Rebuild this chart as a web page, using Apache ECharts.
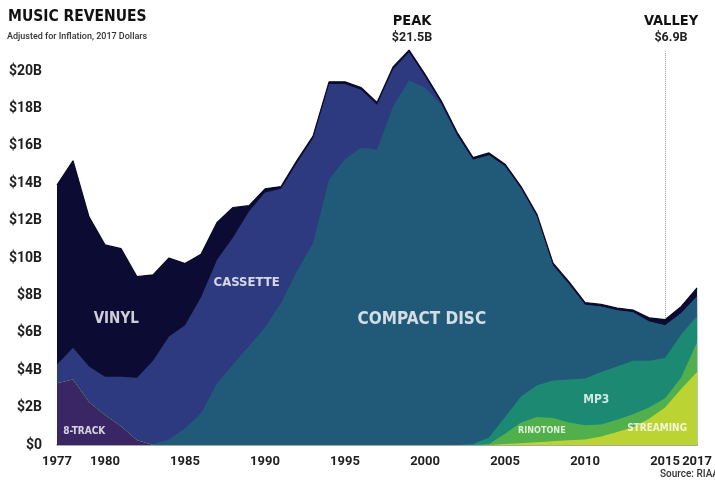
<!DOCTYPE html>
<html><head><meta charset="utf-8">
<script src="https://cdn.jsdelivr.net/npm/echarts@6.0.0/dist/echarts.min.js"></script>
<style>html,body{margin:0;padding:0;background:#fff}#c{width:715px;height:480px}</style>
</head><body><div id="c"></div>
<script>
// ---- data (billions of 2017 dollars) ----
const years = [1977,1978,1979,1980,1981,1982,1983,1984,1985,1986,1987,1988,1989,1990,1991,1992,1993,1994,1995,1996,1997,1998,1999,2000,2001,2002,2003,2004,2005,2006,2007,2008,2009,2010,2011,2012,2013,2014,2015,2016,2017];
const eightTrack = [3.3,3.5,2.3,1.6,1.0,0.25,0,0,0,0,0,0,0,0,0,0,0,0,0,0,0,0,0,0,0,0,0,0,0,0,0,0,0,0,0,0,0,0,0,0,0];
const streaming  = [0,0,0,0,0,0,0,0,0,0,0,0,0,0,0,0,0,0,0,0,0,0,0,0,0,0,0,0,0.05,0.1,0.15,0.2,0.25,0.3,0.45,0.7,0.95,1.4,2.0,3.0,3.9];
const ringtone   = [0,0,0,0,0,0,0,0,0,0,0,0,0,0,0,0,0,0,0,0,0,0,0,0,0,0,0,0.05,0.55,1.1,1.35,1.25,0.95,0.75,0.65,0.65,0.7,0.6,0.5,0.6,1.6];
const mp3        = [0,0,0,0,0,0,0,0,0,0,0,0,0,0,0,0,0,0,0,0,0,0,0,0,0,0,0.05,0.35,0.9,1.4,1.7,2.0,2.3,2.5,2.8,2.85,2.85,2.5,2.15,2.3,1.4];
const compactDisc= [0,0,0,0,0,0,0.05,0.3,0.9,1.7,3.3,4.3,5.3,6.3,7.6,9.3,10.8,14.2,15.3,15.9,15.8,18.1,19.5,19.1,18.2,16.55,15.2,15.1,13.4,11.1,9.0,6.15,5.1,3.95,3.5,3.0,2.6,2.1,1.75,1.15,1.05];
const cassette   = [1.0,1.7,1.9,2.05,2.65,3.35,4.45,5.5,5.5,6.2,6.6,6.8,7.2,7.2,6.1,5.8,5.6,5.1,4.0,3.1,2.4,2.0,1.5,0.6,0.1,0.05,0,0,0,0,0,0,0,0,0,0,0,0,0,0,0];
const vinyl      = [9.6,10.0,8.0,7.05,6.85,5.4,4.6,4.2,3.3,2.3,2.0,1.6,0.3,0.2,0.12,0.12,0.12,0.12,0.12,0.12,0.12,0.12,0.12,0.12,0.12,0.12,0.12,0.12,0.12,0.12,0.12,0.12,0.12,0.12,0.12,0.12,0.12,0.2,0.3,0.35,0.45];
const yTickValues = [0,2,4,6,8,10,12,14,16,18,20];
const xTickYears = [1977,1980,1985,1990,1995,2000,2005,2010,2015,2017];
// in-chart category labels (anchor in data space)
const labelTexts  = ['VINYL','CASSETTE','COMPACT DISC','8-TRACK','MP3','RINOTONE','STREAMING'];
const labelYears  = [1980.7,1988.85,1999.8,1978.7,2010.7,2007.3,2014.5];
const labelValues = [6.75,8.7,6.7,0.75,2.4,0.75,0.9];
const valleyYear = 2015, valleyLineFrom = 6.8, valleyLineTo = 21.1;

// ---- styling ----
const HEAD = '"DejaVu Sans Condensed","DejaVu Sans",sans-serif';
const NUM = 'Roboto, "Noto Sans", sans-serif';
const labelSizes = [15,13,17,10,12,9,10];

// layers bottom -> top
const layers = [
  { name: '8-Track', values: eightTrack, color: '#3a2565' },
  { name: 'Streaming', values: streaming, color: '#bcd433' },
  { name: 'Ringtone', values: ringtone, color: '#52b04c' },
  { name: 'MP3', values: mp3, color: '#1c8a73' },
  { name: 'Compact Disc', values: compactDisc, color: '#215a78' },
  { name: 'Cassette', values: cassette, color: '#2d3a7f' },
  { name: 'Vinyl', values: vinyl, color: '#0c0b33' }
];
// cumulative tops (stack by year index); each layer's area is filled to the baseline and
// lower layers are painted over upper ones, which gives the stacked look.
const running = years.map(() => 0);
layers.forEach(l => { l.top = l.values.map((v, i) => (running[i] = +(running[i] + v).toFixed(4))); });

const areaSeries = layers.slice().reverse().map(l => ({
  name: l.name, type: 'line', symbol: 'none', silent: true, z: 2,
  lineStyle: l.name === 'Vinyl' ? { width: 1.2, color: '#0a0a28' } : { width: 0 },
  areaStyle: { color: l.color, opacity: 1 },
  data: years.map((y, i) => [y, l.top[i]])
}));

const chart = echarts.init(document.getElementById('c'), null, { renderer: 'canvas' });
chart.setOption({
  animation: false,
  backgroundColor: '#fff',
  grid: { left: 57, right: 10, top: 33.6, bottom: 35 },
  xAxis: {
    type: 'value', min: 1977, max: 2017,
    splitLine: { show: false },
    axisTick: { show: false },
    axisLine: { show: true, lineStyle: { color: '#8a8a8a', width: 1.5 } },
    axisLabel: {
      customValues: xTickYears, margin: 10,
      color: '#1e1e1e', fontFamily: NUM, fontWeight: 'bold', fontSize: 13,
      formatter: v => String(v)
    }
  },
  yAxis: {
    type: 'value', min: 0, max: 22,
    splitLine: { show: false }, axisTick: { show: false }, axisLine: { show: false },
    axisLabel: {
      customValues: yTickValues, margin: 15,
      color: '#1e1e1e', fontFamily: NUM, fontWeight: 'bold', fontSize: 14,
      formatter: v => v === 0 ? '$0' : '$' + v + 'B'
    }
  },
  series: areaSeries.concat([
    {
      type: 'scatter', silent: true, symbol: 'circle', symbolSize: 1, z: 5,
      itemStyle: { color: 'rgba(0,0,0,0)' },
      label: { show: true, position: 'inside', formatter: '{b}', color: '#ffffff',
               textBorderWidth: 0, fontFamily: HEAD, fontWeight: 'bold' },
      data: labelTexts.map((t, i) => ({ name: t, value: [labelYears[i], labelValues[i]],
                                        label: { fontSize: labelSizes[i] } })),
      markLine: {
        silent: true, symbol: ['none', 'none'], label: { show: false },
        lineStyle: { type: 'dotted', color: '#9a9a9a', width: 1 },
        data: [[{ coord: [valleyYear, valleyLineFrom] }, { coord: [valleyYear, valleyLineTo] }]]
      }
    }
  ]),
  graphic: [
    { type: 'text', x: 8, y: 9, style: { text: 'MUSIC REVENUES', fill: '#111', fontFamily: HEAD, fontWeight: 'bold', fontSize: 15.5 } },
    { type: 'text', x: 7, y: 32, style: { text: 'Adjusted for Inflation, 2017 Dollars', fill: '#333', fontFamily: NUM, fontWeight: 500, fontSize: 9 } },
    { type: 'text', x: 412, y: 21, style: { text: 'PEAK', fill: '#111', fontFamily: HEAD, fontWeight: 'bold', fontSize: 14.5, align: 'center', verticalAlign: 'middle' } },
    { type: 'text', x: 412, y: 38, style: { text: '$21.5B', fill: '#222', fontFamily: NUM, fontWeight: 'bold', fontSize: 12.5, align: 'center', verticalAlign: 'middle' } },
    { type: 'text', x: 671, y: 21, style: { text: 'VALLEY', fill: '#111', fontFamily: HEAD, fontWeight: 'bold', fontSize: 14.5, align: 'center', verticalAlign: 'middle' } },
    { type: 'text', x: 671, y: 38, style: { text: '$6.9B', fill: '#222', fontFamily: NUM, fontWeight: 'bold', fontSize: 12.5, align: 'center', verticalAlign: 'middle' } },
    { type: 'text', x: 660, y: 474, style: { text: 'Source: RIAA', fill: '#333', fontFamily: NUM, fontWeight: 500, fontSize: 10, verticalAlign: 'middle' } }
  ]
});
</script></body></html>
